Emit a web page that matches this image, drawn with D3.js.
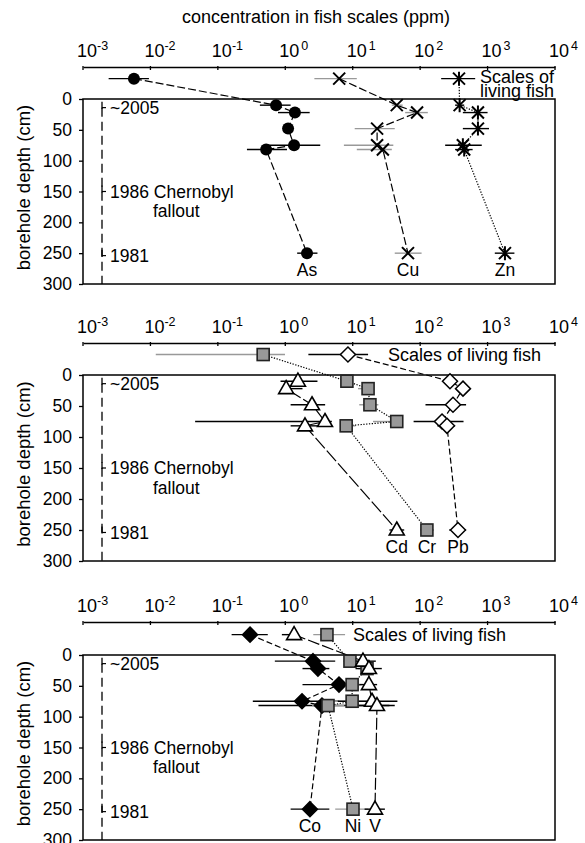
<!DOCTYPE html>
<html>
<head>
<meta charset="utf-8">
<script src="https://cdn.jsdelivr.net/npm/d3@7"></script>
<style>
  body { margin: 0; background: #fff; }
  text { font-family: "Liberation Sans", Arial, sans-serif; fill: #000; }
</style>
</head>
<body>
<svg id="chart" width="585" height="843"></svg>
<script>
// ## DATA ##
const depths = [10, 22, 48, 75, 82, 250]
const xTickPowers = [-3, -2, -1, 0, 1, 2, 3, 4]
const yTicks = [0, 50, 100, 150, 200, 250, 300]
const fishDepth = -33

// top panel
const asVal = [0.73, 1.39, 1.10, 1.35, 0.52, 2.10]
const asLo = [0.42, 0.78, 0.95, 0.55, 0.27, 1.5]
const asHi = [1.2, 2.3, 1.3, 3.3, 1.06, 3.0]
const asFish = [0.0057, 0.0024, 0.0095]

const cuVal = [45, 90, 23, 23, 28, 66]
const cuLo = [38, 60, 10.7, 7.4, 11.5, 42]
const cuHi = [55, 130, 42, 40, 38, 105]
const cuFish = [6.3, 2.7, 11.5]

const znVal = [385, 720, 720, 430, 450, 1810]
const znLo = [330, 430, 430, 235, 330, 1280]
const znHi = [450, 1000, 1050, 820, 600, 2500]
const znFish = [377, 205, 655]

// middle panel
const cdVal = [1.54, 1.03, 2.49, 3.88, 1.96, 45]
const cdLo = [0.85, 1.2, 1.2, 0.046, 1.2, 35]
const cdHi = [3.0, 1.8, 3.9, 4.9, 3.3, 58]
const cdFish = null

const crVal = [8.2, 16.9, 18.0, 45, 8.0, 126]
const crLo = [7.5, 12, 12.5, 20, 6.8, 100]
const crHi = [9.0, 20, 24, 55, 11, 160]
const crFish = [0.47, 0.012, 0.99]

const pbVal = [277, 432, 307, 211, 250, 364]
const pbLo = [240, 360, 120, 80, 180, 270]
const pbHi = [320, 520, 480, 440, 330, 480]
const pbFish = [8.5, 2.2, 16.9]

// bottom panel
const coVal = [2.58, 3.05, 6.26, 1.77, 3.50, 2.32]
const coLo = [0.7, 1.8, 1.8, 0.33, 0.4, 1.2]
const coHi = [5.5, 4.5, 13, 6.2, 35, 4.5]
const coFish = [0.30, 0.16, 0.55]

const niVal = [9.1, 16.3, 9.8, 9.8, 4.3, 10.1]
const niLo = [7.3, 12, 7.5, 4.3, 2.5, 5.5]
const niHi = [13, 22, 14, 17, 7.5, 17]
const niFish = [4.15, 2.6, 7.7]

const vVal = [14.2, 17.4, 17.4, 19.3, 22.9, 21.4]
const vLo = [9, 11, 12.5, 6, 8, 15]
const vHi = [22, 27, 23, 46, 42, 30]
const vFish = [1.35, 0.89, 1.58]

// ## LAYOUT ##
const xLeft = 83, xRight = 555
const panels = [
  {
    axisY: 67, top: 99, bottom: 284, title: true,
    fishText: ["Scales of", "living fish"], fishTextX: 480,
    series: [
      { name: "As", v: asVal, lo: asLo, hi: asHi, fish: asFish, mark: "circle", dash: "8,3", bar: "#000" },
      { name: "Cu", v: cuVal, lo: cuLo, hi: cuHi, fish: cuFish, mark: "x", dash: "8,3", bar: "#999" },
      { name: "Zn", v: znVal, lo: znLo, hi: znHi, fish: znFish, mark: "star", dash: "1.3,1.5", bar: "#000" }
    ]
  },
  {
    axisY: 343, top: 375, bottom: 561,
    fishText: ["Scales of living fish"], fishTextX: 388,
    series: [
      { name: "Cd", v: cdVal, lo: cdLo, hi: cdHi, fish: cdFish, mark: "triangle", dash: "14,3", bar: "#000" },
      { name: "Cr", v: crVal, lo: crLo, hi: crHi, fish: crFish, mark: "square", dash: "1.3,1.5", bar: "#999" },
      { name: "Pb", v: pbVal, lo: pbLo, hi: pbHi, fish: pbFish, mark: "diamond", dash: "6,3", bar: "#000" }
    ]
  },
  {
    axisY: 622, top: 655, bottom: 840,
    fishText: ["Scales of living fish"], fishTextX: 353,
    series: [
      { name: "Co", v: coVal, lo: coLo, hi: coHi, fish: coFish, mark: "diamondFill", dash: "6,3", bar: "#000" },
      { name: "Ni", v: niVal, lo: niLo, hi: niHi, fish: niFish, mark: "square", dash: "1.3,1.5", bar: "#999" },
      { name: "V", v: vVal, lo: vLo, hi: vHi, fish: vFish, mark: "triangle", dash: "12,3", bar: "#000" }
    ]
  }
]

const svg = d3.select("#chart")
const x = d3.scaleLog().domain([1e-3, 1e4]).range([xLeft, xRight])

const drawMarker = (g, type, cx, cy) => {
  if (type === "circle") {
    g.append("circle").attr("cx", cx).attr("cy", cy).attr("r", 6).attr("fill", "#000")
  } else if (type === "x" || type === "star") {
    const s = 6
    g.append("path")
      .attr("d", `M${cx - s},${cy - s}L${cx + s},${cy + s}M${cx - s},${cy + s}L${cx + s},${cy - s}` +
        (type === "star" ? `M${cx},${cy - s - 1}L${cx},${cy + s + 1}` : ""))
      .attr("stroke", "#000").attr("stroke-width", 2).attr("fill", "none")
  } else if (type === "square") {
    g.append("rect").attr("x", cx - 6).attr("y", cy - 6).attr("width", 12).attr("height", 12)
      .attr("fill", "#999").attr("stroke", "#222").attr("stroke-width", 1.6)
  } else if (type === "triangle") {
    g.append("path").attr("d", `M${cx},${cy - 8}L${cx + 7.5},${cy + 5}L${cx - 7.5},${cy + 5}Z`)
      .attr("fill", "#fff").attr("stroke", "#000").attr("stroke-width", 1.6)
  } else if (type === "diamond" || type === "diamondFill") {
    g.append("path").attr("d", `M${cx},${cy - 7.5}L${cx + 7.5},${cy}L${cx},${cy + 7.5}L${cx - 7.5},${cy}Z`)
      .attr("fill", type === "diamond" ? "#fff" : "#000").attr("stroke", "#000").attr("stroke-width", 1.5)
  }
}

panels.forEach((p) => {
  const y = d3.scaleLinear().domain([0, 300]).range([p.top, p.bottom])
  const g = svg.append("g")

  // top log axis
  const xAxis = d3.axisTop(x).tickValues(xTickPowers.map(e => Math.pow(10, e))).tickSize(0).tickFormat("")
  g.append("g").attr("transform", `translate(0,${p.axisY})`).call(xAxis)
    .call(s => s.select(".domain").attr("stroke-width", 1.3))
  g.selectAll(".xt").data(xTickPowers).enter().append("line")
    .attr("x1", e => x(Math.pow(10, e))).attr("x2", e => x(Math.pow(10, e)))
    .attr("y1", p.axisY - 1).attr("y2", p.axisY + 3)
    .attr("stroke", "#000").attr("stroke-width", 1.3)
  const lbl = g.selectAll(".xl").data(xTickPowers).enter().append("text")
    .attr("x", e => x(Math.pow(10, e)) - 6).attr("y", p.axisY - 10)
    .attr("text-anchor", "start").style("font-size", "18px")
  lbl.append("tspan").text("10")
  lbl.append("tspan").attr("dy", -7).attr("dx", e => e < 0 ? 0 : 2).style("font-size", "12.5px").text(e => e < 0 ? `-${-e}` : `${e}`)

  if (p.title) {
    g.append("text").attr("x", 316).attr("y", 23).attr("text-anchor", "middle")
      .style("font-size", "18px").text("concentration in fish scales (ppm)")
  }

  // box
  g.append("rect").attr("x", xLeft).attr("y", p.top).attr("width", xRight - xLeft).attr("height", p.bottom - p.top)
    .attr("fill", "none").attr("stroke", "#000").attr("stroke-width", 1.5)

  // y axis
  const yAxis = d3.axisLeft(y).tickValues(yTicks).tickSize(4).tickPadding(7)
  g.append("g").attr("transform", `translate(${xLeft},0)`).call(yAxis)
    .call(s => s.select(".domain").remove())
    .call(s => s.selectAll("text").style("font-size", "17.5px").attr("font-family", "Liberation Sans, Arial, sans-serif"))
    .call(s => s.selectAll("line").attr("stroke-width", 1.3))
  g.append("text").attr("transform", `translate(24,${(p.top + p.bottom) / 2 - 4}) rotate(-90)`)
    .attr("text-anchor", "middle").attr("dy", "0.35em").style("font-size", "18.5px").text("borehole depth (cm)")

  // dating annotations
  const dx = 102
  g.append("line").attr("x1", dx).attr("x2", dx).attr("y1", y(14)).attr("y2", p.bottom)
    .attr("stroke", "#000").attr("stroke-width", 1.3).attr("stroke-dasharray", "9,5")
  const marks = [[14, "~2005"], [150, "1986 Chernobyl"], [254, "1981"]]
  marks.forEach(([d, t]) => {
    g.append("line").attr("x1", dx).attr("x2", dx + 4).attr("y1", y(d)).attr("y2", y(d)).attr("stroke", "#000").attr("stroke-width", 1.2)
    g.append("line").attr("x1", dx).attr("x2", dx).attr("y1", y(d) - 6).attr("y2", y(d) + 1).attr("stroke", "#000").attr("stroke-width", 1.3)
    g.append("text").attr("x", dx + 8).attr("y", y(d)).attr("dy", "0.35em").style("font-size", "17.5px").text(t)
  })
  g.append("text").attr("x", 153).attr("y", y(182)).attr("dy", "0.35em").style("font-size", "17.5px").text("fallout")

  // living fish label
  p.fishText.forEach((t, i) => {
    g.append("text").attr("x", p.fishTextX)
      .attr("y", p.fishText.length > 1 ? 83 + i * 14 : y(fishDepth) + 6)
      .style("font-size", "18px").text(t)
  })

  // error bars
  p.series.forEach((s) => {
    g.selectAll(null).data(depths).enter().append("line")
      .attr("x1", (d, i) => x(s.lo[i])).attr("x2", (d, i) => x(s.hi[i]))
      .attr("y1", d => y(d)).attr("y2", d => y(d))
      .attr("stroke", s.bar).attr("stroke-width", 1.4)
    if (s.fish) {
      g.append("line").attr("x1", x(s.fish[1])).attr("x2", x(s.fish[2]))
        .attr("y1", y(fishDepth)).attr("y2", y(fishDepth)).attr("stroke", s.bar).attr("stroke-width", 1.4)
    }
  })

  // connecting lines
  p.series.forEach((s) => {
    const pts = depths.map((d, i) => [x(s.v[i]), y(d)])
    if (s.fish) pts.unshift([x(s.fish[0]), y(fishDepth)])
    g.append("path").attr("d", d3.line()(pts)).attr("fill", "none")
      .attr("stroke", "#000").attr("stroke-width", 1.2).attr("stroke-dasharray", s.dash)
  })

  // markers and element labels
  p.series.forEach((s) => {
    depths.forEach((d, i) => drawMarker(g, s.mark, x(s.v[i]), y(d)))
    if (s.fish) drawMarker(g, s.mark, x(s.fish[0]), y(fishDepth))
    g.append("text").attr("x", x(s.v[5])).attr("y", y(250) + 23)
      .attr("text-anchor", "middle").style("font-size", "17.5px").text(s.name)
  })
})
</script>
</body>
</html>
